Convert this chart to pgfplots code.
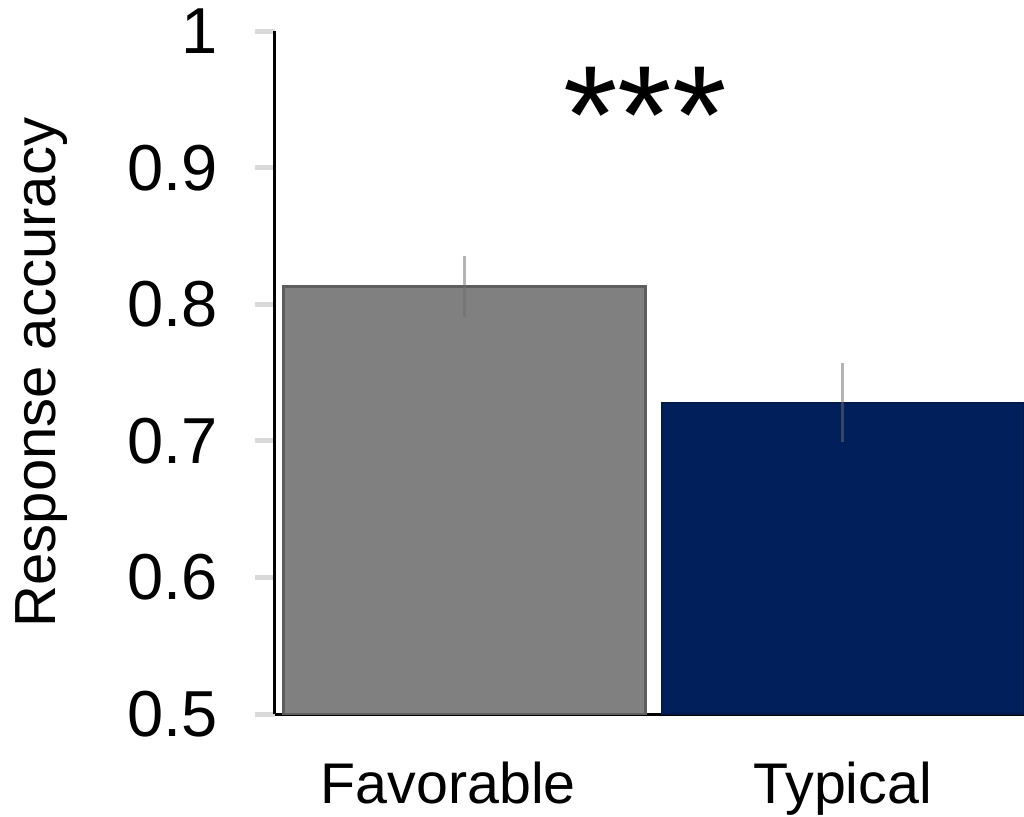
\documentclass[border=0pt]{standalone}
\usepackage{pgfplots}
\pgfplotsset{compat=1.18}
\usepackage{fontspec}
\setmainfont{Liberation Sans}

\definecolor{favfill}{HTML}{808080}
\definecolor{favedge}{HTML}{5E5E5E}
\definecolor{typfill}{HTML}{001F5B}
\definecolor{typedge}{HTML}{00184A}
\definecolor{tickgray}{HTML}{D9D9D9}
\definecolor{errgray}{HTML}{6E6E6E}

\begin{document}
\begin{tikzpicture}
% overall page size
\useasboundingbox (-82.5pt,-30.6pt) rectangle (224.7pt,214.2pt);
\begin{axis}[
  at={(0,0)}, anchor=south west,
  scale only axis,
  width=224.7pt, height=204.9pt,
  xmin=-0.5, xmax=1.479,
  ymin=0.5, ymax=1,
  axis x line=bottom, axis y line=left,
  axis line style={black, line width=0.9pt, -},
  xtick={0,1},
  xticklabels={{Favorable\hspace*{9.6pt}}, Typical},
  x tick style={draw=none},
  ytick={0.5,0.6,0.7,0.8,0.9,1},
  yticklabels={0.5,0.6,0.7,0.8,0.9,1},
  y tick style={tickgray, line width=1.5pt},
  tick align=outside,
  major tick length=6pt,
  /pgf/number format/assume math mode=true,
  yticklabel style={font=\fontsize{19.5}{23}\selectfont, xshift=-7.6pt},
  xticklabel style={font=\fontsize{17.2}{21}\selectfont, yshift=-4.8pt},
  ylabel={Response accuracy},
  ylabel style={font=\fontsize{17.4}{21}\selectfont, yshift=11pt},
  ybar, bar width=108.6pt,
  error bars/error bar style={errgray, opacity=0.5, line width=0.9pt},
  error bars/error mark=none,
]
\addplot+[bar shift=0pt, fill=favfill, draw=favedge, line width=0.9pt,
  error bars/.cd, y dir=both, y explicit]
  coordinates {(0,0.813) +- (0,0.022)};
\addplot+[bar shift=0pt, fill=typfill, draw=typedge, line width=0.6pt,
  error bars/.cd, y dir=both, y explicit]
  coordinates {(1,0.728) +- (0,0.029)};
\node[anchor=base, font=\fontsize{42}{48}\selectfont, inner sep=0pt]
  at (axis cs:0.4776,0.903) {***};
\end{axis}
\end{tikzpicture}
\end{document}
